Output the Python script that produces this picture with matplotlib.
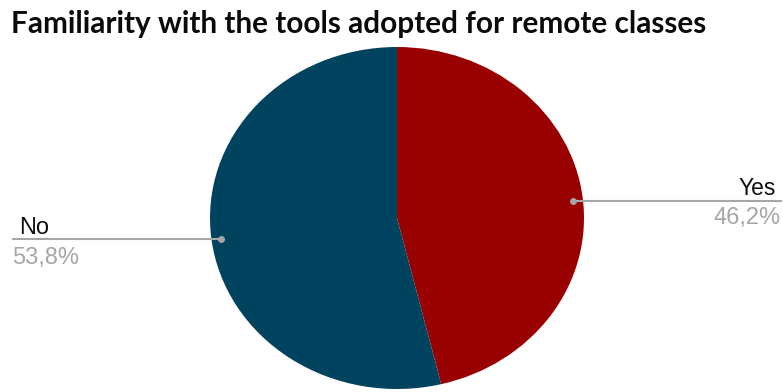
import matplotlib
matplotlib.use("Agg")
import matplotlib.pyplot as plt
import numpy as np

# survey answers
labels = ["Yes", "No"]
shares = [46.2, 53.8]
colors = ["#990000", "#00435F"]
pct_text = ["46,2%", "53,8%"]

W, H = 783, 392
fig = plt.figure(figsize=(W / 100, H / 100), dpi=100)

# pie lives in its own axes; aspect left free so it comes out a bit wide
cx, cy, rx, ry = 397, 218, 187, 171
ax = fig.add_axes([(cx - rx) / W, (H - cy - ry) / H, 2 * rx / W, 2 * ry / H])
wedges, _ = ax.pie(shares, colors=colors, startangle=90, counterclock=False,
                   radius=1, frame=True, wedgeprops=dict(linewidth=0))
ax.set_xlim(-1, 1)
ax.set_ylim(-1, 1)
ax.set_aspect("auto")
ax.axis("off")

fig.text(11 / W, 1 - 33 / H, "Familiarity with the tools adopted for remote classes",
         fontsize=21.4, fontweight="bold", family="Lato", ha="left",
         va="baseline", color="#0a0a0a")

# leader lines from a point inside each wedge out to the figure edge
grey = "#a6a6a6"
for w, lab, pct in zip(wedges, labels, pct_text):
    mid = np.deg2rad((w.theta1 + w.theta2) / 2)
    px, py = ax.transData.transform((0.95 * np.cos(mid), 0.95 * np.sin(mid)))
    py -= 2
    fx, fy = px / W, py / H
    if np.cos(mid) > 0:
        x_end = 781 / W
        fig.add_artist(plt.Line2D([fx, x_end], [fy, fy], color=grey, lw=1.5,
                                  transform=fig.transFigure))
        fig.text(776 / W, fy + 6 / H, lab, fontsize=16.5, family="Liberation Sans",
                 ha="right", va="baseline", color="#111111")
        fig.text(781 / W, fy - 23 / H, pct, fontsize=17, family="Liberation Sans",
                 ha="right", va="baseline", color=grey)
    else:
        x_end = 13 / W
        fig.add_artist(plt.Line2D([x_end, fx], [fy, fy], color=grey, lw=1.5,
                                  transform=fig.transFigure))
        fig.text(19 / W, fy + 5 / H, lab, fontsize=17, family="Liberation Sans",
                 ha="left", va="baseline", color="#111111")
        fig.text(12 / W, fy - 25 / H, pct, fontsize=17, family="Liberation Sans",
                 ha="left", va="baseline", color=grey)
    fig.add_artist(plt.Line2D([fx], [fy], marker="o", ms=4, color=grey,
                              transform=fig.transFigure))

fig.savefig("out.png", dpi=100)
